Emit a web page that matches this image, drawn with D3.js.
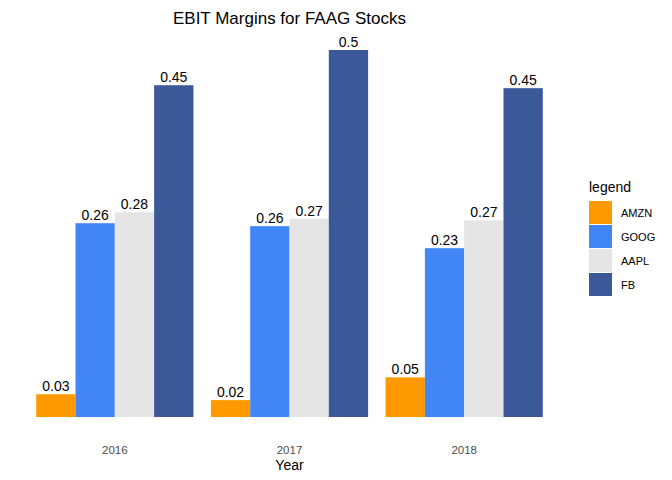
<!DOCTYPE html>
<html><head><meta charset="utf-8">
<script src="https://cdn.jsdelivr.net/npm/d3@7"></script>
<style>body{margin:0;background:#fff;font-family:"Liberation Sans",Arial,sans-serif}</style>
</head><body><svg id="c" width="672" height="480"></svg>
<script>
// chart values
var years = ['2016', '2017', '2018'];
var tickers = ['AMZN', 'GOOG', 'AAPL', 'FB'];
var amzn = [0.031, 0.023, 0.054];
var goog = [0.264, 0.26, 0.23];
var aapl = [0.279, 0.27, 0.268];
var fb = [0.452, 0.5, 0.448];
var colors = ['#FF9900', '#4285F4', '#E5E5E5', '#3B5998'];

var series = [amzn, goog, aapl, fb];
var svg = d3.select('#c');

var x = d3.scaleBand().domain(years).range([10, 569]).paddingInner(0.1).paddingOuter(0.15);
var xi = d3.scaleBand().domain(tickers).range([0, x.bandwidth()]);
var y = d3.scaleLinear().domain([0, 0.5]).range([417, 50]);

var rows = [];
years.forEach(function(yr, i){
	tickers.forEach(function(t, j){
		rows.push({year: yr, t: t, v: series[j][i], c: colors[j]});
	});
});

var g = svg.append('g');
g.selectAll('rect').data(rows).enter().append('rect')
	.attr('x', function(d){ return x(d.year) + xi(d.t); })
	.attr('width', xi.bandwidth())
	.attr('y', function(d){ return y(d.v); })
	.attr('height', function(d){ return y(0) - y(d.v); })
	.attr('fill', function(d){ return d.c; });

g.selectAll('text.lab').data(rows).enter().append('text')
	.attr('class', 'lab')
	.attr('x', function(d){ return x(d.year) + xi(d.t) + xi.bandwidth() / 2; })
	.attr('y', function(d){ return y(d.v) - 3; })
	.attr('text-anchor', 'middle')
	.attr('font-size', 14)
	.text(function(d){ return String(+d.v.toFixed(2)); });

// x axis labels
svg.selectAll('text.tick').data(years).enter().append('text')
	.attr('class', 'tick')
	.attr('x', function(d){ return x(d) + x.bandwidth() / 2; })
	.attr('y', 454)
	.attr('text-anchor', 'middle')
	.attr('font-size', 11.5)
	.attr('fill', '#4d4d4d')
	.text(function(d){ return d; });

svg.append('text').attr('x', 289.5).attr('y', 470).attr('text-anchor', 'middle')
	.attr('font-size', 14).text('Year');

svg.append('text').attr('x', 289.5).attr('y', 24).attr('text-anchor', 'middle')
	.attr('font-size', 17).text('EBIT Margins for FAAG Stocks');

// legend
var leg = svg.append('g').attr('transform', 'translate(589,0)');
leg.append('text').attr('x', 0).attr('y', 192).attr('font-size', 14).text('legend');
tickers.forEach(function(t, j){
	leg.append('rect').attr('x', 0).attr('y', 201 + j * 24).attr('width', 23).attr('height', 23).attr('fill', colors[j]);
	leg.append('text').attr('x', 32).attr('y', 217 + j * 24).attr('font-size', 11).text(t);
});
</script></body></html>
